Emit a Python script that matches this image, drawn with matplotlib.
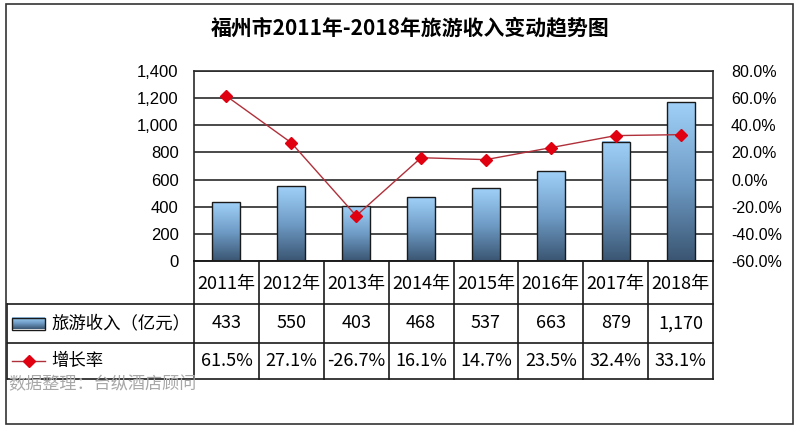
import numpy as np
import matplotlib
matplotlib.use("Agg")
import matplotlib.pyplot as plt
from matplotlib.colors import LinearSegmentedColormap
from matplotlib.patches import Rectangle
from matplotlib.lines import Line2D
from matplotlib.ticker import FuncFormatter

plt.rcParams['font.family'] = ['Noto Sans CJK SC', 'DejaVu Sans']

years = ["2011年", "2012年", "2013年", "2014年", "2015年", "2016年", "2017年", "2018年"]
income = [433, 550, 403, 468, 537, 663, 879, 1170]
growth = [61.5, 27.1, -26.7, 16.1, 14.7, 23.5, 32.4, 33.1]
income_labels = ["433", "550", "403", "468", "537", "663", "879", "1,170"]
growth_labels = ["61.5%", "27.1%", "-26.7%", "16.1%", "14.7%", "23.5%", "32.4%", "33.1%"]

title = "福州市2011年-2018年旅游收入变动趋势图"
bar_name = "旅游收入（亿元）"
line_name = "增长率"
note = "数据整理：台纵酒店顾问"

W, H = 800, 430
fig = plt.figure(figsize=(W / 100, H / 100), dpi=100)

def px_axes(x0, y0, x1, y1, **kw):
    return fig.add_axes([x0 / W, 1 - y1 / H, (x1 - x0) / W, (y1 - y0) / H], **kw)

# outer border
fig.patches.append(Rectangle((6 / W, 1 - 424 / H), 787 / W, 420 / H, transform=fig.transFigure,
                             fill=False, edgecolor="#333333", linewidth=1.2))

fig.text(410 / W, 1 - 28 / H, title, ha="center", va="center", fontsize=15, fontweight="bold")

PL, PR, PT, PB = 194, 713, 71, 261
ax = px_axes(PL, PT, PR, PB)
n = len(years)
x = np.arange(n)
ax.set_xlim(-0.5, n - 0.5)
ax.set_ylim(0, 1400)
ax.set_yticks(np.arange(0, 1401, 200))
ax.yaxis.set_major_formatter(FuncFormatter(lambda v, p: f"{int(v):,}"))
ax.set_xticks([])
ax.grid(axis="y", color="#2a2a2a", linewidth=1.2)
ax.set_axisbelow(True)
for s in ax.spines.values():
    s.set_color("#2a2a2a")
    s.set_linewidth(1.2)
ax.tick_params(axis="y", length=0, pad=11, labelsize=12)
for lab in ax.get_yticklabels():
    lab.set_family(["Liberation Sans", "DejaVu Sans"])

cmap = LinearSegmentedColormap.from_list("barg", ["#3a5572", "#6f9cc6", "#a0d0f8"])
grad = np.linspace(0, 1, 256).reshape(-1, 1)
bw = 0.43
for xi, v in zip(x, income):
    ax.imshow(grad, cmap=cmap, origin="lower", aspect="auto",
              extent=[xi - bw / 2, xi + bw / 2, 0, v], zorder=2)
    ax.add_patch(Rectangle((xi - bw / 2, 0), bw, v, fill=False, edgecolor="#1a1a1a",
                           linewidth=1.0, zorder=3))
ax.set_xlim(-0.5, n - 0.5)
ax.set_ylim(0, 1400)

ax2 = ax.twinx()
ax2.set_ylim(-60, 80)
ax2.set_yticks(np.arange(-60, 81, 20))
ax2.yaxis.set_major_formatter(FuncFormatter(lambda v, p: f"{v:.1f}%"))
ax2.tick_params(axis="y", length=0, pad=13, labelsize=11.5)
for lab in ax2.get_yticklabels():
    lab.set_family(["Liberation Sans", "DejaVu Sans"])
for s in ax2.spines.values():
    s.set_visible(False)
ax2.plot(x, growth, color="#b0303a", linewidth=1.0, marker="D", markersize=6,
         markerfacecolor="#e00010", markeredgecolor="#e00010", zorder=4)

# data table
TL, TR = 7, PR
r0, r1, r2, r3 = PB, 304, 343, 379
tax = px_axes(TL, r0, TR, r3)
tax.set_xlim(TL, TR)
tax.set_ylim(r3, r0)
tax.axis("off")
cw = (PR - PL) / n
lc = "#1a1a1a"
lw = 1.2
for i in range(n + 1):
    cx = PL + i * cw
    tax.plot([cx, cx], [r0, r3], color=lc, lw=lw, clip_on=False)
tax.plot([PL, PR], [r0, r0], color=lc, lw=lw, clip_on=False)
for yy in (r1, r2, r3):
    tax.plot([TL, PR], [yy, yy], color=lc, lw=lw, clip_on=False)
tax.plot([TL, TL], [r1, r3], color=lc, lw=lw, clip_on=False)

fs = 13
for i in range(n):
    cx = PL + (i + 0.5) * cw
    tax.text(cx, (r0 + r1) / 2 + 1, years[i], ha="center", va="center", fontsize=fs)
    tax.text(cx, (r1 + r2) / 2, income_labels[i], ha="center", va="center", fontsize=fs)
    tax.text(cx, (r2 + r3) / 2, growth_labels[i], ha="center", va="center", fontsize=fs)

# legend keys
kx0, kx1 = 12, 45
ky = (r1 + r2) / 2
tax.imshow(np.linspace(0, 1, 64).reshape(1, -1).T, cmap=cmap, origin="lower", aspect="auto",
           extent=[kx0, kx1, ky + 6, ky - 6], zorder=2)
tax.add_patch(Rectangle((kx0, ky - 6), kx1 - kx0, 12, fill=False, edgecolor="#1a1a1a", lw=1.0, zorder=3))
tax.text(51, ky, bar_name, ha="left", va="center", fontsize=12.5)
ly = (r2 + r3) / 2
tax.add_line(Line2D([kx0, kx1], [ly, ly], color="#b0303a", lw=1.0))
tax.plot([(kx0 + kx1) / 2], [ly], marker="D", markersize=6, color="#e00010")
tax.text(51, ly, line_name, ha="left", va="center", fontsize=12.5)
tax.set_xlim(TL, TR)
tax.set_ylim(r3, r0)

fig.text(8 / W, 1 - 384 / H, note, ha="left", va="center", fontsize=12.3, color="#a8a8a8")

fig.savefig("out.png", dpi=100)
